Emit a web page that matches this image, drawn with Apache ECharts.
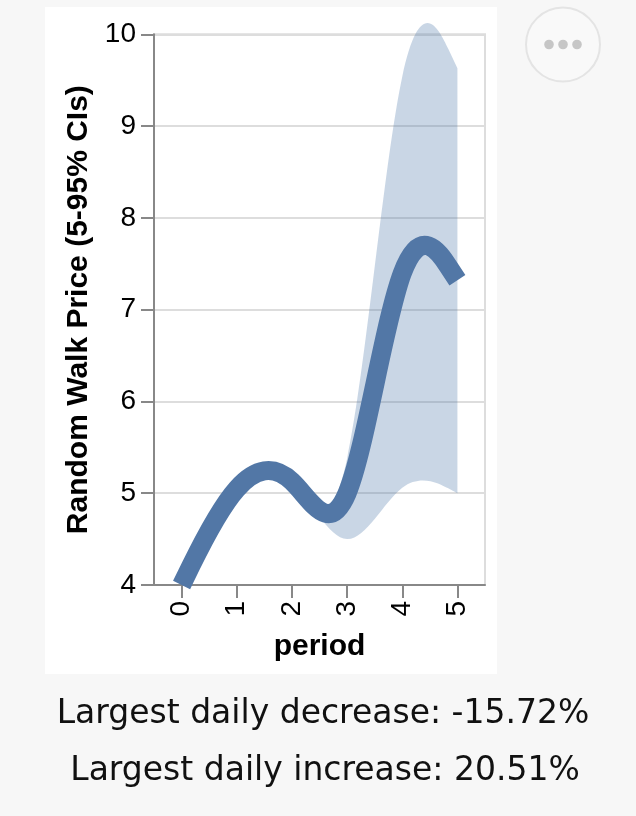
<!DOCTYPE html>
<html>
<head>
<meta charset="utf-8">
<script src="https://cdn.jsdelivr.net/npm/echarts@6/dist/echarts.min.js"></script>
<style>
  html, body { margin: 0; padding: 0; background: #f7f7f7; }
  #chart { width: 636px; height: 816px; }
</style>
</head>
<body>
<div id="chart"></div>
<script>
// ---- data (B-spline control values, as drawn with basis interpolation) ----
const periods = ['0', '1', '2', '3', '4', '5'];
const meanPrice = [4.0, 5.23, 5.36, 4.10, 8.24, 7.32];
const ciLower   = [4.0, 5.23, 5.36, 4.08, 5.32, 5.0];
const ciUpper   = [4.0, 5.23, 5.36, 4.00, 10.9, 9.63];
const yTicks = [4, 5, 6, 7, 8, 9, 10];
const statLines = ['Largest daily decrease: -15.72%', 'Largest daily increase: 20.51%'];

// d3 curveBasis equivalent, producing an SVG path string from pixel points
function basisPath(pts, startCmd) {
  let d = '';
  const n = pts.length;
  let x0, y0, x1, y1, k = 0;
  function seg(x, y) {
    d += 'C' + ((2 * x0 + x1) / 3) + ',' + ((2 * y0 + y1) / 3) + ',' +
         ((x0 + 2 * x1) / 3) + ',' + ((y0 + 2 * y1) / 3) + ',' +
         ((x0 + 4 * x1 + x) / 6) + ',' + ((y0 + 4 * y1 + y) / 6);
  }
  for (let i = 0; i < n; i++) {
    const x = pts[i][0], y = pts[i][1];
    if (k === 0) { d += startCmd + x + ',' + y; k = 1; }
    else if (k === 1) { k = 2; }
    else if (k === 2) { k = 3; d += 'L' + ((5 * x0 + x1) / 6) + ',' + ((5 * y0 + y1) / 6); seg(x, y); }
    else { seg(x, y); }
    x0 = x1; y0 = y1; x1 = x; y1 = y;
  }
  if (k === 3) { seg(x1, y1); d += 'L' + x1 + ',' + y1; }
  else if (k === 2) { d += 'L' + x1 + ',' + y1; }
  return d;
}

const chart = echarts.init(document.getElementById('chart'), null, { renderer: 'canvas' });

const option = {
  animation: false,
  backgroundColor: '#f7f7f7',
  graphic: [
    { type: 'rect', z: -10, shape: { x: 45, y: 7, width: 452, height: 667 }, style: { fill: '#ffffff' }, silent: true },
    { type: 'circle', z: 10, shape: { cx: 563, cy: 44.5, r: 37 }, style: { fill: '#f9f9f9', stroke: '#e4e4e4', lineWidth: 2 } },
    { type: 'circle', z: 11, shape: { cx: 549, cy: 44.5, r: 4.8 }, style: { fill: '#c6c6c6' } },
    { type: 'circle', z: 11, shape: { cx: 563, cy: 44.5, r: 4.8 }, style: { fill: '#c6c6c6' } },
    { type: 'circle', z: 11, shape: { cx: 577, cy: 44.5, r: 4.8 }, style: { fill: '#c6c6c6' } },
    { type: 'text', z: 10, x: 323, y: 714, style: { text: statLines[0], font: '400 33px "DejaVu Sans"', fill: '#111', align: 'center', verticalAlign: 'middle' } },
    { type: 'text', z: 10, x: 325, y: 771, style: { text: statLines[1], font: '400 33px "DejaVu Sans"', fill: '#111', align: 'center', verticalAlign: 'middle' } }
  ],
  grid: {
    left: 154, right: 151, top: 34.3, bottom: 231,
    show: true, borderColor: '#dddddd', borderWidth: 2, backgroundColor: 'transparent'
  },
  xAxis: {
    type: 'category',
    data: periods,
    boundaryGap: true,
    name: 'period',
    nameLocation: 'middle',
    nameGap: 47,
    nameTextStyle: { fontFamily: 'Liberation Sans', fontWeight: 'bold', fontSize: 30, color: '#000' },
    axisLine: { show: true, lineStyle: { color: '#888888', width: 2 } },
    axisTick: { show: true, alignWithLabel: true, length: 13, lineStyle: { color: '#888888', width: 2 } },
    axisLabel: { rotate: 90, fontFamily: 'Liberation Sans', fontSize: 28, color: '#000', margin: 16 },
    splitLine: { show: false }
  },
  yAxis: {
    type: 'value',
    min: 4, max: 10, interval: 1,
    name: 'Random Walk Price (5-95% CIs)',
    nameLocation: 'middle',
    nameRotate: 90,
    nameGap: 57,
    nameTextStyle: { fontFamily: 'Liberation Sans', fontWeight: 'bold', fontSize: 30, color: '#000' },
    axisLine: { show: true, lineStyle: { color: '#888888', width: 2 } },
    axisTick: { show: true, length: 13, lineStyle: { color: '#888888', width: 2 } },
    axisLabel: { fontFamily: 'Liberation Sans', fontSize: 28, color: '#000', margin: 18 },
    splitLine: { show: true, lineStyle: { color: '#dddddd', width: 2 } }
  },
  series: [
    {
      type: 'custom',
      name: 'band',
      clip: false,
      z: 2,
      data: periods.map((p, i) => [i, ciLower[i], ciUpper[i]]),
      renderItem: function (params, api) {
        if (params.dataIndex !== 0) return null;
        const up = periods.map((p, i) => api.coord([i, ciUpper[i]]));
        const lo = periods.map((p, i) => api.coord([i, ciLower[i]])).reverse();
        const d = basisPath(up, 'M') + basisPath(lo, 'L') + 'Z';
        return { type: 'path', shape: { pathData: d }, style: { fill: 'rgba(76,120,168,0.3)', stroke: null } };
      }
    },
    {
      type: 'custom',
      name: 'mean',
      clip: false,
      z: 3,
      data: periods.map((p, i) => [i, meanPrice[i]]),
      renderItem: function (params, api) {
        if (params.dataIndex !== 0) return null;
        const pts = periods.map((p, i) => api.coord([i, meanPrice[i]]));
        return { type: 'path', shape: { pathData: basisPath(pts, 'M') },
                 style: { fill: null, stroke: '#5277a6', lineWidth: 19, lineCap: 'butt', lineJoin: 'round' } };
      }
    }
  ]
};
chart.setOption(option);
</script>
</body>
</html>
